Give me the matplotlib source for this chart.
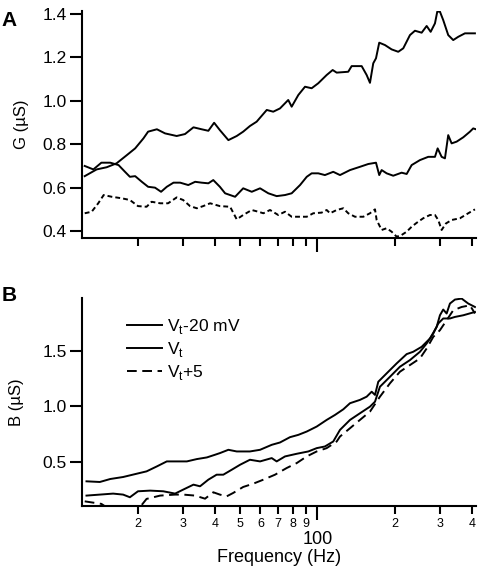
import matplotlib
matplotlib.use('Agg')
import matplotlib.pyplot as plt
from matplotlib.ticker import FixedLocator, FixedFormatter, NullFormatter

plt.rcParams['font.family'] = ['Liberation Sans', 'DejaVu Sans']
plt.rcParams['lines.scale_dashes'] = False

# ---- panel A: conductance G (uS) ----
fa_hi = [12.4, 13.8, 15.1, 16.5, 18.1, 19.5, 21.0, 21.9, 23.7, 25.5, 28.3, 30.5, 32.9, 35.4, 37.6,
         39.6, 41.7, 45.0, 48.5, 51.4, 54.6, 58.0, 63.5, 67.3, 71.5, 77.0, 79.4, 84.3, 89.5, 95.0,
         100.8, 108.7, 114.7, 118.9, 131.9, 136.0, 148.8, 155.6, 160.3, 165.1, 169.2, 174.2, 183.4,
         194.7, 206.6, 216.1, 229.5, 240.0, 254.9, 266.6, 276.3, 287.2, 293.2, 300.3, 309.3, 323.5,
         338.3, 353.9, 375.8, 411.0]
ga_hi = [0.653, 0.684, 0.694, 0.712, 0.750, 0.781, 0.827, 0.858, 0.869, 0.850, 0.838, 0.847, 0.878,
         0.869, 0.862, 0.899, 0.865, 0.819, 0.838, 0.858, 0.884, 0.904, 0.958, 0.950, 0.965, 1.004,
         0.973, 1.027, 1.065, 1.058, 1.081, 1.119, 1.142, 1.130, 1.134, 1.160, 1.160, 1.119, 1.083,
         1.173, 1.196, 1.268, 1.257, 1.237, 1.226, 1.242, 1.303, 1.323, 1.314, 1.345, 1.318, 1.357,
         1.411, 1.411, 1.372, 1.303, 1.280, 1.295, 1.311, 1.311]

fa_mid = [12.4, 13.4, 14.4, 15.6, 16.8, 17.8, 18.6, 19.5, 20.7, 21.9, 23.3, 24.6, 25.9, 27.5, 29.2,
          31.4, 33.4, 35.4, 37.6, 39.3, 41.7, 43.7, 45.7, 47.8, 51.4, 55.5, 59.8, 64.4, 69.4, 74.8,
          79.4, 85.6, 90.9, 95.0, 100.8, 107.0, 115.3, 122.5, 134.0, 146.5, 157.9, 169.2, 174.2,
          178.0, 186.2, 197.5, 213.0, 222.8, 233.0, 251.0, 270.4, 287.2, 294.2, 304.9, 314.1, 323.5,
          333.5, 348.9, 370.2, 393.1, 404.8, 414.7]
ga_mid = [0.700, 0.684, 0.715, 0.715, 0.704, 0.673, 0.650, 0.653, 0.627, 0.604, 0.600, 0.581, 0.604,
          0.623, 0.623, 0.612, 0.627, 0.623, 0.620, 0.635, 0.604, 0.574, 0.566, 0.558, 0.597, 0.581,
          0.597, 0.574, 0.561, 0.566, 0.574, 0.612, 0.650, 0.666, 0.666, 0.658, 0.673, 0.658, 0.681,
          0.696, 0.709, 0.715, 0.658, 0.681, 0.666, 0.655, 0.669, 0.663, 0.704, 0.727, 0.742, 0.742,
          0.781, 0.742, 0.735, 0.842, 0.804, 0.812, 0.832, 0.858, 0.873, 0.869]

fa_lo = [12.4, 13.2, 14.0, 14.7, 15.8, 17.3, 18.6, 20.0, 21.6, 22.6, 24.4, 26.2, 28.3, 30.0, 31.9,
         33.9, 35.9, 38.2, 41.7, 45.7, 48.5, 51.4, 55.5, 58.9, 61.6, 65.4, 70.4, 74.8, 79.4, 85.6,
         90.9, 96.4, 103.9, 108.7, 112.0, 118.9, 126.2, 131.9, 140.1, 151.0, 160.3, 167.7, 170.2,
         178.0, 186.2, 194.7, 203.7, 213.0, 222.8, 233.0, 243.7, 258.5, 274.6, 287.2, 295.8, 304.9,
         316.9, 333.5, 359.4, 387.1, 411.1]
ga_lo = [0.482, 0.489, 0.528, 0.566, 0.558, 0.551, 0.543, 0.515, 0.512, 0.535, 0.528, 0.528, 0.555,
         0.543, 0.515, 0.505, 0.515, 0.528, 0.515, 0.512, 0.454, 0.474, 0.497, 0.489, 0.482, 0.497,
         0.474, 0.489, 0.466, 0.466, 0.466, 0.482, 0.485, 0.497, 0.482, 0.497, 0.505, 0.482, 0.466,
         0.466, 0.482, 0.500, 0.451, 0.405, 0.413, 0.397, 0.374, 0.382, 0.397, 0.420, 0.438, 0.459,
         0.474, 0.474, 0.451, 0.405, 0.435, 0.451, 0.459, 0.482, 0.500]

# ---- panel B: susceptance B (uS) ----
fb_hi = [12.6, 14.2, 15.6, 17.5, 19.8, 21.6, 23.7, 25.9, 28.3, 31.0, 33.9, 37.1, 39.9, 41.7, 45.0,
         48.5, 54.6, 59.8, 66.4, 71.5, 78.2, 84.3, 90.9, 99.4, 108.7, 117.1, 126.2, 134.0, 146.5,
         155.6, 162.8, 167.7, 172.7, 186.2, 203.7, 222.8, 236.3, 254.9, 274.6, 291.6, 300.3, 309.3,
         318.9, 328.5, 343.6, 364.9, 387.1, 411.1]
bb_hi = [0.323, 0.317, 0.344, 0.362, 0.392, 0.413, 0.458, 0.503, 0.503, 0.503, 0.524, 0.539, 0.563,
         0.578, 0.608, 0.593, 0.593, 0.608, 0.653, 0.674, 0.722, 0.743, 0.773, 0.818, 0.878, 0.923,
         0.974, 1.029, 1.059, 1.088, 1.133, 1.104, 1.223, 1.299, 1.389, 1.473, 1.494, 1.539, 1.614,
         1.719, 1.824, 1.876, 1.840, 1.930, 1.966, 1.975, 1.930, 1.899]

fb_mid = [12.6, 14.2, 16.0, 17.5, 18.6, 20.0, 22.3, 25.1, 27.9, 30.0, 32.9, 34.9, 37.6, 40.5, 43.0,
          46.4, 50.0, 54.6, 59.8, 66.4, 69.4, 74.8, 83.1, 92.2, 99.4, 107.0, 115.3, 122.5, 134.0,
          146.5, 160.3, 167.7, 175.3, 191.8, 209.8, 229.5, 251.0, 266.6, 282.9, 295.8, 309.3, 328.5,
          343.6, 370.2, 411.1]
bb_mid = [0.194, 0.203, 0.212, 0.203, 0.179, 0.233, 0.239, 0.233, 0.212, 0.248, 0.293, 0.278, 0.338,
          0.383, 0.383, 0.428, 0.473, 0.518, 0.503, 0.533, 0.503, 0.548, 0.572, 0.593, 0.623, 0.638,
          0.683, 0.788, 0.878, 0.938, 0.998, 1.043, 1.178, 1.268, 1.359, 1.419, 1.494, 1.569, 1.659,
          1.750, 1.795, 1.795, 1.809, 1.824, 1.854]

fb_lo = [12.4, 14.4, 15.5, 17.0, 18.6, 20.2, 21.6, 24.4, 27.9, 30.0, 33.4, 36.5, 39.3, 41.7, 44.3,
         47.0, 51.4, 56.3, 61.6, 68.4, 75.9, 83.1, 90.9, 99.4, 108.7, 118.9, 122.5, 134.0, 146.5,
         160.3, 175.3, 191.8, 209.8, 229.5, 251.0, 266.6, 282.9, 300.3, 318.9, 338.3, 364.9, 393.1,
         411.1]
bb_lo = [0.142, 0.119, 0.070, 0.050, 0.060, 0.080, 0.164, 0.194, 0.203, 0.203, 0.194, 0.166, 0.224,
         0.203, 0.187, 0.218, 0.272, 0.302, 0.338, 0.383, 0.443, 0.488, 0.548, 0.593, 0.623, 0.683,
         0.728, 0.803, 0.878, 0.953, 1.088, 1.209, 1.314, 1.374, 1.434, 1.524, 1.629, 1.689, 1.779,
         1.869, 1.899, 1.914, 1.840]

minor_ticks = [20, 30, 40, 50, 60, 70, 80, 90, 200, 300, 400]
minor_labels = ['2', '3', '4', '5', '6', '7', '8', '9', '2', '3', '4']
legend_labels = [r'V$_\mathregular{t}$-20 mV', r'V$_\mathregular{t}$', r'V$_\mathregular{t}$+5']

fig = plt.figure(figsize=(4.78, 5.72), dpi=100)
axA = fig.add_axes([0.1715, 0.5839, 0.8243, 0.3969])
axB = fig.add_axes([0.1715, 0.1154, 0.8243, 0.3636])

lw = 1.4
axA.plot(fa_hi, ga_hi, color='black', lw=lw)
axA.plot(fa_mid, ga_mid, color='black', lw=lw)
axA.plot(fa_lo, ga_lo, color='black', lw=lw, dashes=(3.5, 2.2))

axB.plot(fb_hi, bb_hi, color='black', lw=lw, label=legend_labels[0])
axB.plot(fb_mid, bb_mid, color='black', lw=lw, label=legend_labels[1])
axB.plot(fb_lo, bb_lo, color='black', lw=lw, dashes=(7, 4), label=legend_labels[2])

for ax in (axA, axB):
    ax.set_xscale('log')
    ax.set_xlim(12.1, 415)
    for s in ('top', 'right'):
        ax.spines[s].set_visible(False)
    for s in ('left', 'bottom'):
        ax.spines[s].set_linewidth(1.5)
    ax.xaxis.set_major_locator(FixedLocator([100]))
    ax.xaxis.set_minor_locator(FixedLocator(minor_ticks))
    ax.tick_params(axis='x', which='major', length=10, width=1.5, direction='out')
    ax.tick_params(axis='x', which='minor', length=5.5, width=1.5, direction='out')
    ax.tick_params(axis='y', which='major', length=9, width=1.5, direction='out', labelsize=12.5, pad=2)
    ax.tick_params(axis='y', which='minor', length=0)

axA.set_ylim(0.368, 1.414)
axA.set_yticks([0.4, 0.6, 0.8, 1.0, 1.2, 1.4])
axA.set_yticklabels(['0.4', '0.6', '0.8', '1.0', '1.2', '1.4'])
axA.xaxis.set_major_formatter(NullFormatter())
axA.xaxis.set_minor_formatter(NullFormatter())
axA.set_ylabel('G (µS)', fontsize=12, labelpad=10)

axB.set_ylim(0.10, 1.98)
axB.set_yticks([0.5, 1.0, 1.5])
axB.set_yticklabels(['0.5', '1.0', '1.5'])
axB.xaxis.set_major_formatter(FixedFormatter(['100']))
axB.xaxis.set_minor_formatter(FixedFormatter(minor_labels))
axB.tick_params(axis='x', which='major', labelsize=13, pad=8)
axB.tick_params(axis='x', which='minor', labelsize=9, pad=3)
axB.set_xlabel('Frequency (Hz)', fontsize=13, labelpad=1)
axB.set_ylabel('B (µS)', fontsize=12, labelpad=13)

axB.legend(loc='upper left', bbox_to_anchor=(0.07, 0.99), frameon=False, fontsize=12.5,
           handlelength=2.0, handletextpad=0.3, labelspacing=0.22, borderaxespad=0.6)

fig.text(0.004, 0.965, 'A', fontsize=15, fontweight='bold', va='center')
fig.text(0.004, 0.483, 'B', fontsize=15, fontweight='bold', va='center')

fig.savefig('out.png', dpi=100)
